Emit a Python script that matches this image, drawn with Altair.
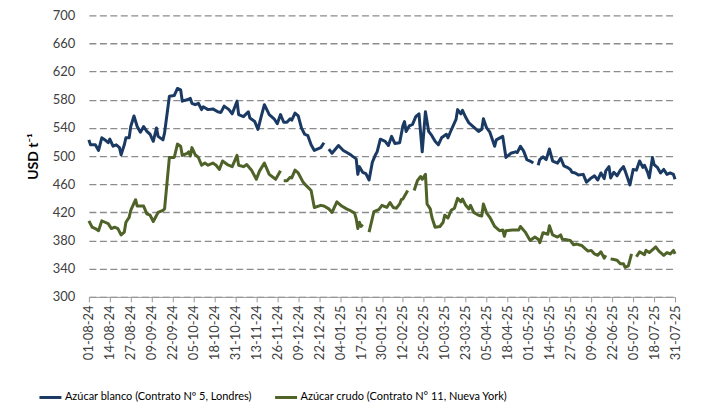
import altair as alt
import pandas as pd
from datetime import date, timedelta

BASE = date(2024, 8, 1)

series_names = [
    "Azúcar blanco (Contrato Nº 5, Londres)",
    "Azúcar crudo (Contrato N° 11, Nueva York)",
]
series_colors = ["#1B3A63", "#4F6228"]

# days after 01-08-24 ; None marks a break in the line
blanco_days = [0, 1, 4, 6, 8, 10, 12, 13, 15, 17, 19, 20, 22, 23, 25, 26, 28, 30, 32, 34,
               36, 38, 40, 42, 43, 46, 47, 50, 53, 55, 57, 58, 61, 63, 64, 66, 68, 70, 71, 74,
               77, 80, 82, 84, 87, 89, 92, 93, 96, 99, 100, 103, 105, 107, 109, 112, 115, 117, 119, 121,
               123, 125, 126, 128, 130, 132, 134, 136, 138, 140, 144, 146, None,
               149, 151, 155, 158, 161, 163, 166, 167, 168, 170, 172, 174, 176, 178, 179, 181, 184, 186, 188, 190,
               193, 195, 196, 197, 199, 201, 203, 205, 207, 209, 211, 213, 215, 217, 219, 222, 223, 225, 228, 229,
               231, 232, 234, 236, 239, 242, 244, 245, 247, 249, 252, 253, 257, 259, 262, 265, 266, 268, 270, 272,
               274, 276, None,
               279, 280, 282, 284, 286, 288, 291, 293, 295, 297, 299, 300, 302, 304, 307, 309, 312, 314, 316, 318,
               320, 321, 323, 324, 326, 328, 330, 332, 333, 336, 338, 340, 342, 344, 345, 347, 348, 350, 351, 353,
               355, 357, 359, 361, 363, 364]
blanco_vals = [523, 516, 516, 508, 526, 523, 519, 524, 514, 516, 512, 502, 516, 526, 526, 542, 557, 542, 534, 542,
               535, 531, 521, 540, 528, 523, 533, 585, 586, 596, 594, 578, 580, 582, 575, 573, 575, 566, 570, 566,
               567, 563, 562, 571, 566, 560, 578, 559, 556, 563, 554, 549, 538, 556, 573, 559, 553, 546, 559, 548,
               548, 553, 551, 561, 557, 540, 531, 529, 516, 508, 512, 519, None,
               510, 504, 515, 508, 504, 501, 496, 474, 485, 477, 475, 466, 491, 502, 506, 524, 521, 515, 528, 518,
               519, 543, 549, 535, 543, 545, 556, 560, 506, 563, 535, 529, 521, 516, 526, 531, 526, 537, 552, 566,
               560, 565, 555, 547, 541, 535, 538, 553, 540, 534, 514, 523, 528, 498, 504, 506, 505, 514, 507, 495,
               493, 490, None,
               487, 495, 499, 495, 510, 493, 490, 497, 486, 484, 481, 477, 476, 473, 474, 463, 469, 472, 466, 476,
               468, 479, 485, 469, 477, 472, 480, 485, 479, 459, 481, 480, 493, 484, 487, 477, 469, 498, 488, 484,
               476, 481, 474, 476, 474, 467]

crudo_days = [0, 2, 4, 6, 8, 10, 12, 14, 16, 18, 20, 22, 23, 25, 26, 29, 30, 33, 34, 36,
              38, 40, 43, 46, 47, 50, 53, 55, 57, 58, 61, 62, 63, 64, 66, 68, 70, 72, 74, 77,
              79, 81, 83, 86, 89, 92, 93, 96, 98, 101, 104, 106, 109, 112, 116, 119, None,
              121, 123, 125, 126, 128, 130, 133, 135, 138, 140, 144, 146, 149, 151, 154, 157, 160, 162, 165, 166,
              167, 168, 169, 170, None,
              174, 177, 180, 182, 185, 187, 189, 191, 193, 194, 195, 198, None,
              202, 204, 206, 207, 209, 210, 212, 213, 215, 218, 220, 221, 223, 225, 227, 229, 231, 232, 234, 236,
              237, 239, 242, 244, 245, 247, 249, 252, 255, 257, 258, 259, 263, 267, 268, 271, 274, 277, 279, 280,
              282, 285, 286, 288, 291, 293, 294, 297, 299, 301, 303, 306, 308, 310, 312, 314, 316, 318, 320, 321, None,
              324, 326, 328, 330, 332, 333, 335, 337, None,
              340, 342, 345, 346, 348, 351, 352, 354, 357, 359, 361, 363, 364]
crudo_vals = [408, 399, 397, 394, 408, 406, 404, 397, 399, 397, 388, 392, 406, 413, 423, 438, 429, 429, 429, 418,
              416, 407, 420, 423, 425, 498, 498, 517, 514, 501, 504, 506, 500, 512, 502, 498, 487, 490, 487, 490,
              487, 481, 493, 488, 485, 501, 487, 485, 488, 480, 467, 479, 490, 474, 467, 479, None,
              465, 465, 470, 469, 480, 476, 463, 458, 451, 427, 430, 429, 425, 420, 435, 429, 425, 423, 419, 411,
              397, 406, 400, 403, None,
              392, 421, 424, 430, 427, 434, 427, 426, 432, 438, 439, 451, None,
              451, 465, 471, 467, 474, 432, 425, 413, 399, 400, 406, 416, 412, 423, 426, 440, 435, 439, 430, 425,
              430, 420, 416, 415, 432, 419, 413, 400, 394, 395, 386, 394, 395, 395, 400, 392, 380, 385, 382, 377,
              391, 389, 401, 388, 385, 388, 382, 381, 380, 374, 375, 373, 369, 365, 366, 361, 359, 364, 355, 359, None,
              354, 353, 352, 347, 347, 342, 344, 361, None,
              357, 364, 360, 366, 363, 369, 371, 365, 359, 363, 361, 366, 361]

y_ticks = list(range(300, 701, 40))
x_tick_days = list(range(0, 365, 13))


def build(name, days, vals):
    rows = []
    seg = 0
    for d, v in zip(days, vals):
        if v is None:
            seg += 1
            continue
        dt = BASE + timedelta(days=d)
        rows.append({"fecha": dt.strftime("%Y/%m/%d"), "valor": v,
                     "serie": name, "tramo": f"{name}-{seg}"})
    return rows


df = pd.DataFrame(build(series_names[0], blanco_days, blanco_vals)
                  + build(series_names[1], crudo_days, crudo_vals))


def dt_obj(d):
    t = BASE + timedelta(days=d)
    return alt.DateTime(year=t.year, month=t.month, date=t.day)


AXIS_FONT = "Lato"
LABEL_COLOR = "#404040"

chart = alt.Chart(df).mark_line(strokeWidth=3, strokeJoin="round").encode(
    x=alt.X("fecha:T",
            scale=alt.Scale(domain=[dt_obj(0), dt_obj(364)]),
            axis=alt.Axis(values=[dt_obj(d) for d in x_tick_days], format="%d-%m-%y",
                          labelAngle=270, title=None, grid=False,
                          domainColor="#999999", tickColor="#999999", tickSize=5,
                          labelFont=AXIS_FONT, labelFontSize=13, labelColor=LABEL_COLOR,
                          labelPadding=3, labelOverlap=False, labelFlush=False)),
    y=alt.Y("valor:Q",
            scale=alt.Scale(domain=[300, 700], nice=False, zero=False),
            axis=alt.Axis(values=y_ticks, title="USD t⁻¹", grid=True,
                          gridDash=[7, 3.5], gridColor="#8c8c8c", gridWidth=1.3,
                          domain=False, ticks=False, labelPadding=14,
                          labelFont=AXIS_FONT, labelFontSize=13, labelColor=LABEL_COLOR,
                          titleFont=AXIS_FONT, titleFontSize=14, titleFontWeight="bold",
                          titleColor="#000000", titlePadding=12)),
    color=alt.Color("serie:N",
                    scale=alt.Scale(domain=series_names, range=series_colors),
                    legend=alt.Legend(orient="none", legendX=-51, legendY=370,
                                      direction="horizontal", title=None,
                                      symbolType="stroke", symbolSize=484,
                                      symbolStrokeWidth=3, labelFont="Lato",
                                      labelFontSize=11, labelColor="#000000",
                                      columnPadding=16, labelLimit=400, labelOffset=2)),
    detail="tramo:N",
).properties(
    width=587, height=282,
    padding={"left": 81, "top": 7, "right": 20, "bottom": 110},
    autosize=alt.AutoSizeParams(type="none"),
).configure_view(stroke=None)

chart.save("out.html", embed_options={"renderer": "svg", "actions": False})
